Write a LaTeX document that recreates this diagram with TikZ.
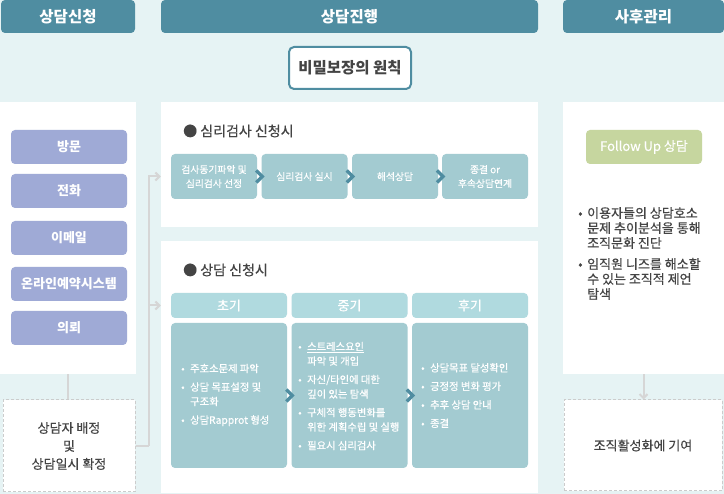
\documentclass[tikz,border=0pt]{standalone}
\usepackage{fontspec}
\setmainfont{Noto Sans CJK KR}
\newfontfamily\krmed[FakeBold=0.5]{Noto Sans CJK KR}
\usepackage{tikz}
\usetikzlibrary{arrows.meta,calc,positioning}
\definecolor{bgcol}{HTML}{E6F3F4}
\definecolor{headcol}{HTML}{4F8DA1}
\definecolor{chancol}{HTML}{9FAAD6}
\definecolor{boxcol}{HTML}{A3CBD1}
\definecolor{stagecol}{HTML}{B0DADF}
\definecolor{greencol}{HTML}{C6D69F}
\definecolor{linkcol}{HTML}{D6D6D6}
\definecolor{dashcol}{HTML}{CCCCCC}
\definecolor{txtcol}{HTML}{444444}
\newcommand{\fHead}{\fontsize{15.5}{18}\selectfont\bfseries}
\newcommand{\fBtn}{\fontsize{13}{15}\selectfont}
\newcommand{\fStep}{\krmed\fontsize{9.8}{14}\selectfont}
\newcommand{\fList}{\krmed\fontsize{10.3}{14.5}\selectfont}
\newcommand{\fText}{\krmed\fontsize{13}{18}\selectfont}
\newcommand{\bl}{\makebox[9pt][l]{\textbullet}}
\newcommand{\ind}{\hspace*{9pt}}

\begin{document}
\begin{tikzpicture}[x=1pt,y=-1pt,
  head/.style={fill=headcol, text=white, rounded corners=4pt, inner sep=0pt, minimum height=33pt, font=\fHead},
  panel/.style={fill=white, inner sep=0pt},
  chan/.style={fill=chancol, text=white, rounded corners=4pt, minimum width=116pt, minimum height=34pt, inner sep=0pt, font=\fBtn\bfseries},
  stepbox/.style={fill=boxcol, text=white, rounded corners=4pt, minimum width=86pt, minimum height=45pt, inner sep=0pt, align=center, font=\fStep},
  stagehead/.style={fill=stagecol, text=white, rounded corners=4pt, minimum width=116pt, minimum height=25pt, inner sep=0pt, font=\krmed\fBtn},
  stagebody/.style={fill=boxcol, rounded corners=4pt, minimum width=116pt, minimum height=145pt, inner sep=0pt},
  listtxt/.style={anchor=west, align=left, inner sep=0pt, text=white, font=\fList},
  dashbox/.style={fill=white, draw=dashcol, dash pattern=on 3pt off 2pt, line width=1pt, inner sep=0pt, align=center, text=txtcol, font=\fText},
  title/.style={anchor=west, inner sep=0pt, text=txtcol, font=\krmed\fontsize{14}{16}\selectfont},
  link/.style={draw=linkcol, line width=2pt},
  chev/.style={draw=headcol, line width=3.5pt},
]

  \fill[bgcol] (0,0) rectangle (724,494);
  \useasboundingbox (0,0) rectangle (724,494);

  %% column heads
  \node[head, minimum width=134pt] (hApply) at (68,16.5) {상담신청};
  \node[head, minimum width=377pt] (hProg) at (349.5,16.5) {상담진행};
  \node[head, minimum width=161pt] (hAfter) at (643.5,16.5) {사후관리};

  \node[fill=white, draw=headcol, line width=2pt, rounded corners=5pt, minimum width=122pt, minimum height=42pt,
        inner sep=0pt, text=txtcol, font=\fHead] (secret) at (350,68) {비밀보장의 원칙};

  %% white panels
  \node[panel, minimum width=136pt, minimum height=272pt] (lPanel) at (68,238) {};
  \node[panel, minimum width=377pt, minimum height=125pt] (upPanel) at (349.5,164.5) {};
  \node[panel, minimum width=377pt, minimum height=252pt] (lowPanel) at (349.5,367) {};
  \node[panel, minimum width=161pt, minimum height=272pt] (rPanel) at (643.5,238) {};

  %% ways to apply
  \foreach \n/\y/\t in {c1/147/방문, c2/191/전화, c3/238/이메일, c4/284/온라인예약시스템, c5/328/의뢰}
    \node[chan] (\n) at (69,\y) {\t};

  \node[dashbox, minimum width=132pt, minimum height=92pt] (lDash) at (69,446) {상담자 배정\\및\\상담일시 확정};

  %% psychological test
  \node[title] (tTest) at (183,131) {● 심리검사 신청시};
  \foreach \n/\x/\t in {p1/214/{검사동기파악 및\\심리검사 선정}, p2/304.5/심리검사 실시, p3/395/해석상담, p4/485/{종결 or\\후속상담연계}}
    \node[stepbox] (\n) at (\x,176.5) {\t};

  %% counselling
  \node[title] (tCoun) at (183,270) {● 상담 신청시};
  \foreach \n/\x/\t in {s1/229/초기, s2/349.5/중기, s3/470/후기} {
    \node[stagehead] (\n h) at (\x,305.5) {\t};
    \node[stagebody] (\n) at (\x,395.5) {};
  }
  \node[listtxt] (s1t) at (181,395) {\bl 주호소문제 파악\\[4pt]\bl 상담 목표설정 및\\\ind 구조화\\[4pt]\bl 상담Rapprot 형성};
  \node[listtxt] (s2t) at (298,396) {\bl \underline{스트레스요인}\\\ind 파악 및 개입\\[4pt]\bl 자신/타인에 대한\\\ind 깊이 있는 탐색\\[4pt]\bl 구체적 행동변화를\\\ind 위한 계획수립 및 실행\\[4pt]\bl 필요시 심리검사};
  \node[listtxt] (s3t) at (421,395.5) {\bl 상담목표 달성확인\\[4pt]\bl 긍정정 변화 평가\\[4pt]\bl 추후 상담 안내\\[4pt]\bl 종결};

  \foreach \a/\b in {p1/p2,p2/p3,p3/p4,s1/s2,s2/s3}
    \draw[chev] ($(\a.east)!0.5!(\b.west)$) +(-3,-6) -- +(3,0) -- +(-3,6);

  %% follow up
  \node[fill=greencol, text=white, rounded corners=4pt, minimum width=116pt, minimum height=34pt, inner sep=0pt,
        font=\krmed\fBtn] (follow) at (644,147) {Follow Up 상담};
  \node[anchor=west, align=left, inner sep=0pt, text=txtcol, font=\krmed\fontsize{13}{15}\selectfont] (rTxt) at (578,253.5)
    {\bl 이용자들의 상담호소\\\ind 문제 추이분석을 통해\\\ind 조직문화 진단\\[6pt]\bl 임직원 니즈를 해소할\\\ind 수 있는 조직적 제언\\\ind 탐색};

  \node[dashbox, minimum width=158pt, minimum height=91pt] (rDash) at (643,445.5) {조직활성화에 기여};

  %% connectors
  \coordinate (fork) at (149,446);
  \draw[link] (lPanel.south) -- (lPanel.south |- lDash.north);
  \draw[link] (lDash.east) -- (fork);
  \draw[link,-{Straight Barb[length=4pt,width=8pt]}] (fork) |- (upPanel.west |- p1);
  \draw[link,-{Straight Barb[length=4pt,width=8pt]}] (fork) |- (lowPanel.west |- s1h);
  \draw[link,-{Straight Barb[length=4pt,width=8pt]}] (rPanel.south) -- (rPanel.south |- rDash.north);

\end{tikzpicture}
\end{document}
